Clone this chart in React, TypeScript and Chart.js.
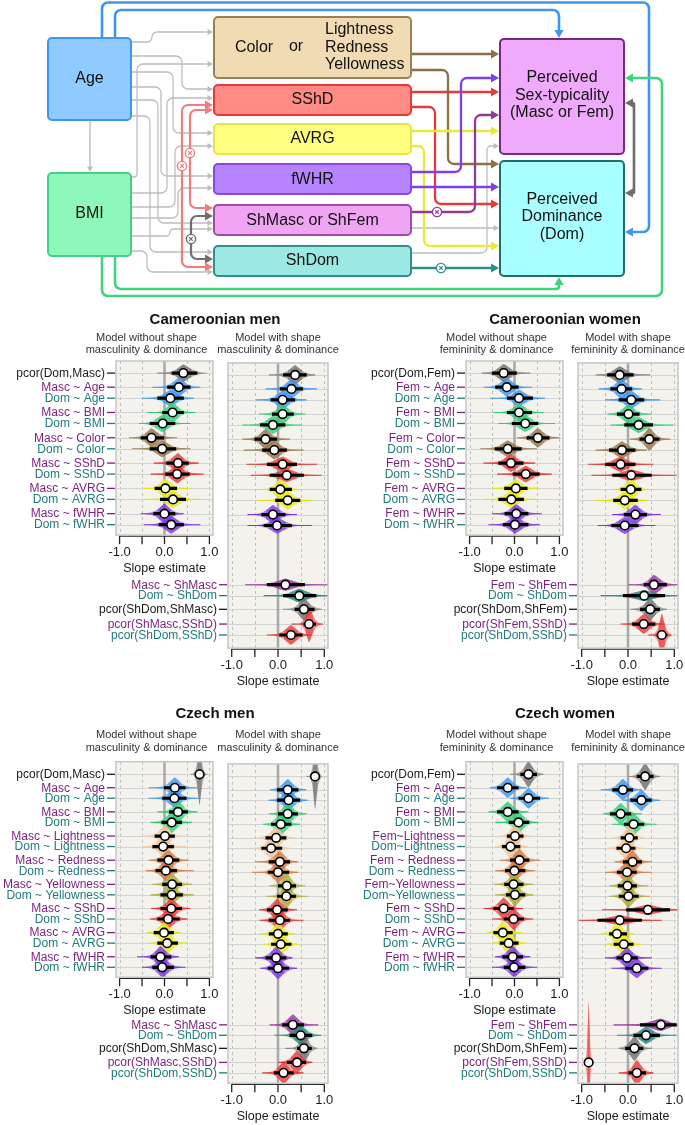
import React, { useEffect, useRef } from 'react';
import { Chart, registerables } from 'chart.js';

Chart.register(...registerables);

const FONT = '"Liberation Sans", Arial, Helvetica, sans-serif';

// ---------------- DATA ----------------
// row labels
const camMenLabels = ['pcor(Dom,Masc)', 'Masc ~ Age', 'Dom ~ Age', 'Masc ~ BMI', 'Dom ~ BMI', 'Masc ~ Color', 'Dom ~ Color', 'Masc ~ SShD', 'Dom ~ SShD', 'Masc ~ AVRG', 'Dom ~ AVRG', 'Masc ~ fWHR', 'Dom ~ fWHR'];
const camWomenLabels = ['pcor(Dom,Fem)', 'Fem ~ Age', 'Dom ~ Age', 'Fem ~ BMI', 'Dom ~ BMI', 'Fem ~ Color', 'Dom ~ Color', 'Fem ~ SShD', 'Dom ~ SShD', 'Fem ~ AVRG', 'Dom ~ AVRG', 'Fem ~ fWHR', 'Dom ~ fWHR'];
const czMenLabels = ['pcor(Dom,Masc)', 'Masc ~ Age', 'Dom ~ Age', 'Masc ~ BMI', 'Dom ~ BMI', 'Masc ~ Lightness', 'Dom ~ Lightness', 'Masc ~ Redness', 'Dom ~ Redness', 'Masc ~ Yellowness', 'Dom ~ Yellowness', 'Masc ~ SShD', 'Dom ~ SShD', 'Masc ~ AVRG', 'Dom ~ AVRG', 'Masc ~ fWHR', 'Dom ~ fWHR'];
const czWomenLabels = ['pcor(Dom,Fem)', 'Fem ~ Age', 'Dom ~ Age', 'Fem ~ BMI', 'Dom ~ BMI', 'Fem~Lightness', 'Dom~Lightness', 'Fem ~ Redness', 'Dom ~ Redness', 'Fem~Yellowness', 'Dom~Yellowness', 'Fem ~ SShD', 'Dom ~ SShD', 'Fem ~ AVRG', 'Dom ~ AVRG', 'Fem ~ fWHR', 'Dom ~ fWHR'];
const menShapeLabels = ['Masc ~ ShMasc', 'Dom ~ ShDom', 'pcor(ShDom,ShMasc)', 'pcor(ShMasc,SShD)', 'pcor(ShDom,SShD)'];
const womenShapeLabels = ['Fem ~ ShFem', 'Dom ~ ShDom', 'pcor(ShDom,ShFem)', 'pcor(ShFem,SShD)', 'pcor(ShDom,SShD)'];

// predictor (colour) keys and label tones (k = black, p = purple, t = teal)
const camKeys = ['pcor', 'Age', 'Age', 'BMI', 'BMI', 'Color', 'Color', 'SShD', 'SShD', 'AVRG', 'AVRG', 'fWHR', 'fWHR'];
const czKeys = ['pcor', 'Age', 'Age', 'BMI', 'BMI', 'Lightness', 'Lightness', 'Redness', 'Redness', 'Yellowness', 'Yellowness', 'SShD', 'SShD', 'AVRG', 'AVRG', 'fWHR', 'fWHR'];
const shapeKeys = ['ShMasc', 'ShDom', 'pcor', 'SShD', 'SShD'];
const camTones = ['k', 'p', 't', 'p', 't', 'p', 't', 'p', 't', 'p', 't', 'p', 't'];
const czTones = ['k', 'p', 't', 'p', 't', 'p', 't', 'p', 't', 'p', 't', 'p', 't', 'p', 't', 'p', 't'];
const shapeTones = ['p', 't', 'k', 'p', 't'];

// each row: [estimate, inner-interval low, inner-interval high, outer-interval low, outer-interval high]
const camMenNoShape = [
  [0.42, 0.16, 0.73, -0.16, 0.80], [0.32, 0.06, 0.58, -0.27, 0.80], [0.13, -0.16, 0.43, -0.50, 0.65],
  [0.18, -0.05, 0.43, -0.39, 0.69], [-0.04, -0.33, 0.24, -0.57, 0.58], [-0.29, -0.53, -0.01, -0.79, 0.28],
  [-0.05, -0.33, 0.26, -0.72, 0.58], [0.30, 0.04, 0.54, -0.24, 0.76], [0.28, 0.02, 0.56, -0.31, 0.87],
  [0.02, -0.22, 0.28, -0.46, 0.54], [0.19, -0.10, 0.48, -0.44, 0.80], [0.00, -0.25, 0.24, -0.53, 0.43],
  [0.15, -0.13, 0.43, -0.46, 0.80],
];
const camMenWithShape = [
  [0.37, 0.11, 0.62, -0.20, 0.80], [0.29, 0.04, 0.54, -0.27, 0.84], [0.10, -0.16, 0.37, -0.47, 0.62],
  [0.10, -0.13, 0.34, -0.41, 0.59], [-0.11, -0.39, 0.16, -0.77, 0.51], [-0.27, -0.51, -0.02, -0.77, 0.26],
  [-0.08, -0.34, 0.19, -0.74, 0.55], [0.10, -0.24, 0.41, -0.68, 0.84], [0.19, -0.18, 0.56, -0.59, 0.94],
  [0.05, -0.18, 0.30, -0.49, 0.55], [0.21, -0.06, 0.48, -0.45, 0.73], [-0.11, -0.36, 0.16, -0.66, 0.41],
  [-0.02, -0.31, 0.30, -0.66, 0.73],
];
const camMenShape = [
  [0.16, -0.24, 0.58, -0.71, 1.10], [0.46, 0.11, 0.83, -0.31, 1.10], [0.56, 0.36, 0.79, 0.11, 0.90],
  [0.67, 0.55, 0.82, 0.29, 0.97], [0.28, 0.03, 0.53, -0.24, 0.72],
];
const camWomenNoShape = [
  [-0.24, -0.50, 0.05, -0.73, 0.35], [-0.17, -0.43, 0.09, -0.69, 0.39], [0.10, -0.17, 0.41, -0.54, 0.68],
  [0.10, -0.17, 0.39, -0.47, 0.64], [0.24, -0.06, 0.53, -0.36, 0.90], [0.52, 0.27, 0.78, 0.05, 1.01],
  [-0.15, -0.44, 0.16, -0.76, 0.50], [-0.08, -0.36, 0.20, -0.69, 0.46], [0.25, -0.04, 0.56, -0.39, 0.83],
  [0.03, -0.23, 0.29, -0.50, 0.53], [-0.07, -0.36, 0.21, -0.65, 0.50], [0.04, -0.22, 0.31, -0.50, 0.61],
  [0.01, -0.26, 0.31, -0.58, 0.57],
];
const camWomenWithShape = [
  [-0.18, -0.45, 0.12, -0.70, 0.48], [-0.14, -0.38, 0.09, -0.63, 0.30], [0.07, -0.20, 0.35, -0.49, 0.69],
  [0.01, -0.24, 0.25, -0.45, 0.51], [0.23, -0.08, 0.54, -0.38, 0.98], [0.46, 0.25, 0.68, 0.04, 0.91],
  [-0.13, -0.41, 0.16, -0.70, 0.41], [-0.16, -0.49, 0.16, -0.86, 0.55], [0.07, -0.34, 0.51, -0.79, 1.05],
  [0.06, -0.16, 0.29, -0.38, 0.55], [-0.07, -0.32, 0.21, -0.70, 0.44], [0.16, -0.09, 0.41, -0.34, 0.71],
  [-0.07, -0.36, 0.23, -0.66, 0.59],
];
const camWomenShape = [
  [0.56, 0.34, 0.84, 0.01, 1.10], [0.35, -0.11, 0.80, -0.59, 1.10], [0.48, 0.26, 0.69, 0.05, 0.84],
  [0.34, 0.09, 0.59, -0.16, 0.80], [0.73, 0.62, 0.85, 0.44, 0.94],
];
const czMenNoShape = [
  [0.78, 0.70, 0.86, 0.58, 0.95], [0.23, -0.01, 0.47, -0.35, 0.73], [0.22, -0.05, 0.49, -0.35, 0.76],
  [0.30, 0.10, 0.52, -0.16, 0.73], [0.16, -0.07, 0.39, -0.31, 0.61], [0.01, -0.22, 0.23, -0.46, 0.47],
  [-0.03, -0.27, 0.21, -0.50, 0.47], [0.09, -0.16, 0.33, -0.35, 0.54], [0.03, -0.20, 0.28, -0.42, 0.65],
  [0.17, -0.05, 0.39, -0.27, 0.61], [0.16, -0.09, 0.41, -0.31, 0.65], [0.15, -0.09, 0.39, -0.30, 0.58],
  [0.08, -0.16, 0.34, -0.31, 0.50], [-0.01, -0.24, 0.21, -0.39, 0.36], [0.06, -0.16, 0.30, -0.35, 0.50],
  [-0.09, -0.31, 0.15, -0.61, 0.32], [-0.05, -0.27, 0.21, -0.50, 0.47],
];
const czMenWithShape = [
  [0.80, 0.73, 0.88, 0.62, 0.94], [0.21, -0.02, 0.44, -0.16, 0.61], [0.23, -0.02, 0.48, -0.20, 0.62],
  [0.21, 0.00, 0.43, -0.20, 0.62], [0.06, -0.15, 0.29, -0.33, 0.48], [-0.04, -0.27, 0.18, -0.44, 0.37],
  [-0.15, -0.36, 0.09, -0.52, 0.26], [0.04, -0.20, 0.26, -0.50, 0.44], [0.00, -0.22, 0.24, -0.56, 0.44],
  [0.19, 0.00, 0.39, -0.19, 0.59], [0.18, -0.02, 0.39, -0.25, 0.64], [-0.02, -0.24, 0.21, -0.41, 0.41],
  [0.04, -0.20, 0.26, -0.40, 0.55], [0.00, -0.20, 0.21, -0.41, 0.37], [0.06, -0.15, 0.29, -0.34, 0.44],
  [-0.04, -0.27, 0.18, -0.49, 0.30], [0.00, -0.22, 0.24, -0.38, 0.41],
];
const czMenShape = [
  [0.32, 0.09, 0.56, -0.18, 0.87], [0.49, 0.25, 0.74, -0.08, 0.94], [0.56, 0.41, 0.73, 0.16, 0.82],
  [0.41, 0.19, 0.61, 0.01, 0.73], [0.12, -0.09, 0.34, -0.34, 0.55],
];
const czWomenNoShape = [
  [0.31, 0.13, 0.50, -0.10, 0.64], [-0.15, -0.39, 0.09, -0.54, 0.27], [0.31, 0.09, 0.57, -0.10, 0.76],
  [-0.15, -0.39, 0.09, -0.58, 0.31], [0.09, -0.13, 0.33, -0.43, 0.53], [0.01, -0.17, 0.20, -0.32, 0.39],
  [-0.09, -0.28, 0.13, -0.43, 0.31], [0.11, -0.10, 0.33, -0.33, 0.57], [0.00, -0.21, 0.24, -0.43, 0.46],
  [-0.02, -0.23, 0.20, -0.45, 0.42], [0.01, -0.19, 0.24, -0.43, 0.42], [-0.24, -0.47, -0.02, -0.69, 0.19],
  [-0.02, -0.24, 0.21, -0.50, 0.42], [-0.26, -0.47, -0.04, -0.61, 0.16], [-0.13, -0.33, 0.09, -0.50, 0.27],
  [-0.04, -0.27, 0.19, -0.43, 0.35], [-0.01, -0.24, 0.24, -0.50, 0.50],
];
const czWomenWithShape = [
  [0.37, 0.19, 0.55, 0.01, 0.69], [-0.11, -0.34, 0.11, -0.59, 0.30], [0.29, 0.05, 0.51, -0.09, 0.69],
  [-0.16, -0.39, 0.07, -0.52, 0.30], [0.12, -0.09, 0.35, -0.34, 0.62], [0.03, -0.16, 0.21, -0.34, 0.37],
  [-0.04, -0.25, 0.16, -0.45, 0.34], [0.10, -0.11, 0.30, -0.29, 0.51], [-0.02, -0.24, 0.19, -0.49, 0.51],
  [-0.01, -0.22, 0.19, -0.41, 0.44], [0.01, -0.20, 0.23, -0.41, 0.48], [0.43, -0.04, 0.91, -0.56, 1.10],
  [-0.18, -0.66, 0.30, -1.10, 0.73], [-0.24, -0.41, -0.02, -0.59, 0.12], [-0.09, -0.31, 0.12, -0.49, 0.30],
  [-0.02, -0.25, 0.21, -0.49, 0.51], [0.19, -0.06, 0.44, -0.36, 0.73],
];
const czWomenShape = [
  [0.71, 0.26, 1.05, -0.31, 1.10], [0.39, 0.12, 0.69, -0.24, 1.05], [0.14, -0.06, 0.33, -0.20, 0.51],
  [-0.85, -0.89, -0.81, -0.93, -0.75], [0.19, 0.01, 0.39, -0.20, 0.55],
];

// x axis
const X_MIN = -1.08;
const X_MAX = 1.08;
const TICK_VALUES = [-1, -0.5, 0, 0.5, 1];
const TICK_LABELS = ['-1.0', '', '0.0', '', '1.0'];
const GRID_DASHED = [-1, -0.5, 0.5, 1];

// ---------------- STYLE ----------------
const PALETTE: any = {
  pcor: { fill: 'rgba(110,110,110,0.55)', line: '#8A8A8A' },
  Age: { fill: 'rgba(55,150,245,0.55)', line: '#3D97F0' },
  BMI: { fill: 'rgba(45,205,120,0.55)', line: '#2ECC71' },
  Color: { fill: 'rgba(150,118,72,0.58)', line: '#9E7F55' },
  Lightness: { fill: 'rgba(242,198,155,0.6)', line: '#F3CFA8' },
  Redness: { fill: 'rgba(215,118,60,0.55)', line: '#D2773C' },
  Yellowness: { fill: 'rgba(172,172,55,0.58)', line: '#B0B040' },
  SShD: { fill: 'rgba(235,55,55,0.55)', line: '#E83030' },
  AVRG: { fill: 'rgba(236,236,30,0.62)', line: '#E2E220' },
  fWHR: { fill: 'rgba(125,55,230,0.58)', line: '#7B35E0' },
  ShMasc: { fill: 'rgba(150,50,160,0.55)', line: '#9B3AA0' },
  ShDom: { fill: 'rgba(35,140,135,0.6)', line: '#2E8E8C' },
};
const TONE: any = { k: '#1A1A1A', p: '#7A1F7C', t: '#1E7B78' };
const VIOLIN_K = 1.12;

// ---------------- LAYOUT HELPERS ----------------
function topPositions(n: number) {
  const p = [0];
  for (let j = 0; p.length < n; j++) {
    const a = 1.28 + 2.3 * j;
    p.push(a);
    if (p.length < n) p.push(a + 1);
  }
  return p;
}
function shapePositions(last: number) {
  return [0, 1, 2.25, 3.6, 4.6].map((o) => last + 5.42 + o);
}

function buildPanel(p: any) {
  const top = topPositions(p.labels.length);
  const last = top[top.length - 1];
  const shp = shapePositions(last);
  const leftMax = last + 0.95;
  const rightMax = shp[4] + p.rightPad;
  const lb = { x0: p.ox + 116, x1: p.ox + 213, y0: p.boxTop, y1: p.boxTop + (leftMax - p.yMin) * p.unit };
  const rb = { x0: p.ox + 228, x1: p.ox + 328, y0: p.boxTop, y1: p.boxTop + (rightMax - p.yMin) * p.unit };
  const topRows = (vals: number[][], show: boolean) =>
    p.labels.map((l: string, i: number) => ({ label: l, key: p.keys[i], tone: p.tones[i], pos: top[i], v: vals[i], showLabel: show }));
  const shapeRows = p.shapeLabels.map((l: string, i: number) => ({ label: l, key: shapeKeys[i], tone: shapeTones[i], pos: shp[i], v: p.shape[i], showLabel: true }));
  const subFont = `11px ${FONT}`;
  const texts = [
    { text: p.title, x: p.ox + 215, y: p.titleY, font: `bold 15px ${FONT}`, color: '#111' },
    { text: 'Model without shape', x: p.ox + 146.5, y: p.sub1Y, font: subFont, color: '#333' },
    { text: p.subWord + ' & dominance', x: p.ox + 146.5, y: p.sub2Y, font: subFont, color: '#333' },
    { text: 'Model with shape', x: p.ox + 278, y: p.sub1Y, font: subFont, color: '#333' },
    { text: p.subWord + ' & dominance', x: p.ox + 278, y: p.sub2Y, font: subFont, color: '#333' },
  ];
  const left = {
    canvas: { x: p.ox, y: p.titleY - 14, w: 340, h: Math.ceil(lb.y1 + 44 - (p.titleY - 14)) },
    box: lb, yMin: p.yMin, yMax: leftMax, rows: topRows(p.noShape, true), texts,
  };
  const right = {
    canvas: { x: p.ox + 40, y: p.boxTop - 4, w: 300, h: Math.ceil(rb.y1 + 44 - (p.boxTop - 4)) },
    box: rb, yMin: p.yMin, yMax: rightMax, rows: [...topRows(p.withShape, false), ...shapeRows], texts: [],
  };
  return [left, right];
}

const PANELS = [
  { ox: 0, title: 'Cameroonian men', subWord: 'masculinity', titleY: 320, sub1Y: 338, sub2Y: 350, boxTop: 361, unit: 11, yMin: -1.1, rightPad: 1.2,
    labels: camMenLabels, keys: camKeys, tones: camTones, noShape: camMenNoShape, withShape: camMenWithShape, shapeLabels: menShapeLabels, shape: camMenShape },
  { ox: 350, title: 'Cameroonian women', subWord: 'femininity', titleY: 320, sub1Y: 338, sub2Y: 350, boxTop: 361, unit: 11, yMin: -1.1, rightPad: 1.2,
    labels: camWomenLabels, keys: camKeys, tones: camTones, noShape: camWomenNoShape, withShape: camWomenWithShape, shapeLabels: womenShapeLabels, shape: camWomenShape },
  { ox: 0, title: 'Czech men', subWord: 'masculinity', titleY: 714, sub1Y: 735, sub2Y: 748, boxTop: 761.7, unit: 10.5, yMin: -1.2, rightPad: 1.0,
    labels: czMenLabels, keys: czKeys, tones: czTones, noShape: czMenNoShape, withShape: czMenWithShape, shapeLabels: menShapeLabels, shape: czMenShape },
  { ox: 350, title: 'Czech women', subWord: 'femininity', titleY: 714, sub1Y: 735, sub2Y: 748, boxTop: 761.7, unit: 10.5, yMin: -1.2, rightPad: 1.0,
    labels: czWomenLabels, keys: czKeys, tones: czTones, noShape: czWomenNoShape, withShape: czWomenWithShape, shapeLabels: womenShapeLabels, shape: czWomenShape },
];

// ---------------- FOREST CHART ----------------
function line(ctx: any, x0: number, y0: number, x1: number, y1: number) {
  ctx.beginPath();
  ctx.moveTo(x0, y0);
  ctx.lineTo(x1, y1);
  ctx.stroke();
}

function violinPath(ctx: any, xs: any, yc: number, m: number, sL: number, sR: number, peak: number, zLim: number) {
  const N = 60;
  const lo = m - zLim * sL;
  const hi = m + zLim * sR;
  const up: number[][] = [];
  for (let i = 0; i <= N; i++) {
    const v = lo + ((hi - lo) * i) / N;
    const z = v < m ? (m - v) / sL : (v - m) / sR;
    const h = peak * Math.exp(-0.55 * Math.pow(z, 1.35));
    up.push([xs.getPixelForValue(v), h]);
  }
  ctx.beginPath();
  up.forEach((p, i) => (i === 0 ? ctx.moveTo(p[0], yc - p[1]) : ctx.lineTo(p[0], yc - p[1])));
  for (let i = up.length - 1; i >= 0; i--) ctx.lineTo(up[i][0], yc + up[i][1]);
  ctx.closePath();
}

function makeForestPlugin(spec: any) {
  return {
    id: 'forestDecor',
    beforeDraw(chart: any) {
      const { ctx, chartArea: ca, scales } = chart;
      const xs = scales.x;
      const ys = scales.y;
      const ox = spec.canvas.x;
      const oy = spec.canvas.y;
      ctx.save();
      ctx.fillStyle = '#F3F2EC';
      ctx.fillRect(ca.left, ca.top, ca.right - ca.left, ca.bottom - ca.top);
      ctx.strokeStyle = '#BFBFBF';
      ctx.lineWidth = 1;
      ctx.setLineDash([3, 3]);
      GRID_DASHED.forEach((v) => {
        const px = Math.round(xs.getPixelForValue(v)) + 0.5;
        line(ctx, px, ca.top, px, ca.bottom);
      });
      ctx.setLineDash([]);
      ctx.strokeStyle = '#D3D3D3';
      spec.rows.forEach((r: any) => {
        const py = Math.round(ys.getPixelForValue(r.pos)) + 0.5;
        line(ctx, ca.left, py, ca.right, py);
      });
      ctx.strokeStyle = '#A8A8A8';
      ctx.lineWidth = 2.5;
      const zx = xs.getPixelForValue(0);
      line(ctx, zx, ca.top, zx, ca.bottom);
      ctx.font = `12px ${FONT}`;
      ctx.textAlign = 'right';
      ctx.textBaseline = 'middle';
      spec.rows.forEach((r: any) => {
        if (!r.showLabel) return;
        const py = ys.getPixelForValue(r.pos);
        ctx.fillStyle = TONE[r.tone];
        ctx.fillText(r.label, ca.left - 11, py + 0.5);
        ctx.strokeStyle = TONE[r.tone];
        ctx.lineWidth = 1.3;
        line(ctx, ca.left - 9, py, ca.left - 1, py);
      });
      const ay = ca.bottom + 1;
      ctx.strokeStyle = '#222';
      ctx.lineWidth = 1.3;
      line(ctx, xs.getPixelForValue(-1), ay, xs.getPixelForValue(1), ay);
      ctx.fillStyle = '#1A1A1A';
      ctx.textAlign = 'center';
      ctx.font = `13px ${FONT}`;
      TICK_VALUES.forEach((v, i) => {
        const px = xs.getPixelForValue(v);
        line(ctx, px, ay, px, ay + 8);
        if (TICK_LABELS[i]) ctx.fillText(TICK_LABELS[i], px, ca.bottom + 17);
      });
      ctx.font = `12.5px ${FONT}`;
      ctx.fillText('Slope estimate', xs.getPixelForValue(0), ca.bottom + 33);
      spec.texts.forEach((t: any) => {
        ctx.font = t.font;
        ctx.fillStyle = t.color;
        ctx.fillText(t.text, t.x - ox, t.y - oy);
      });
      ctx.restore();
    },
    beforeDatasetsDraw(chart: any) {
      const { ctx, chartArea: ca, scales } = chart;
      const xs = scales.x;
      const ys = scales.y;
      ctx.save();
      ctx.beginPath();
      ctx.rect(ca.left, ca.top, ca.right - ca.left, ca.bottom - ca.top);
      ctx.clip();
      spec.rows.forEach((r: any) => {
        const [m, a, b] = r.v;
        const sL = Math.max((m - a) / 2.2, 0.01);
        const sR = Math.max((b - m) / 2.2, 0.01);
        const peak = VIOLIN_K / ((sL + sR) / 2);
        const yc = ys.getPixelForValue(r.pos);
        ctx.fillStyle = PALETTE[r.key].fill;
        violinPath(ctx, xs, yc, m, sL, sR, peak, 3.8);
        ctx.fill();
        violinPath(ctx, xs, yc, m, sL, sR, peak, 1.3);
        ctx.fill();
      });
      ctx.restore();
    },
    afterDatasetsDraw(chart: any) {
      const { ctx, chartArea: ca } = chart;
      ctx.save();
      ctx.strokeStyle = '#C6C6C6';
      ctx.lineWidth = 1.5;
      ctx.strokeRect(ca.left, ca.top, ca.right - ca.left, ca.bottom - ca.top);
      ctx.restore();
    },
  };
}

function makeForestConfig(spec: any) {
  const rows = spec.rows;
  const thin: any[] = [];
  const thick: any[] = [];
  const pts: any[] = [];
  rows.forEach((r: any) => {
    const [m, a, b, lo, hi] = r.v;
    thin.push({ x: lo, y: r.pos }, { x: hi, y: r.pos }, { x: NaN, y: NaN });
    thick.push({ x: a, y: r.pos }, { x: b, y: r.pos }, { x: NaN, y: NaN });
    pts.push({ x: m, y: r.pos });
  });
  const c = spec.canvas;
  const bx = spec.box;
  return {
    type: 'scatter',
    data: {
      datasets: [
        { data: pts, order: 0, showLine: false, pointRadius: 4.3, pointBackgroundColor: '#ffffff', pointBorderColor: '#000000', pointBorderWidth: 1.6 },
        { data: thick, order: 1, showLine: true, pointRadius: 0, borderColor: '#000000', borderWidth: 3.2, borderCapStyle: 'butt', spanGaps: false },
        {
          data: thin, order: 2, showLine: true, pointRadius: 0, borderWidth: 1.1, borderColor: '#888888', spanGaps: false,
          segment: { borderColor: (ctx: any) => PALETTE[rows[Math.floor(ctx.p0DataIndex / 3)].key].line },
        },
      ],
    },
    options: {
      responsive: false,
      maintainAspectRatio: false,
      animation: false,
      events: [],
      layout: { padding: { left: bx.x0 - c.x, right: c.x + c.w - bx.x1, top: bx.y0 - c.y, bottom: c.y + c.h - bx.y1 } },
      scales: {
        x: { type: 'linear', min: X_MIN, max: X_MAX, display: false },
        y: { type: 'linear', min: spec.yMin, max: spec.yMax, reverse: true, display: false },
      },
      plugins: { legend: { display: false }, tooltip: { enabled: false } },
    },
    plugins: [makeForestPlugin(spec)],
  };
}

function ForestSubplot({ spec }: { spec: any }) {
  const ref = useRef<HTMLCanvasElement>(null);
  useEffect(() => {
    const chart = new Chart(ref.current as any, makeForestConfig(spec) as any);
    return () => chart.destroy();
  }, []);
  const c = spec.canvas;
  return <canvas ref={ref} width={c.w} height={c.h} style={{ position: 'absolute', left: c.x, top: c.y, width: c.w, height: c.h }} />;
}

// ---------------- PATH DIAGRAM ----------------
const GRAY = '#BDBDBD';
const DIAGRAM_BOXES = [
  { x0: 48, y0: 38, x1: 131, y1: 120, fill: '#8FCBFF', stroke: '#3D97F0', text: [['Age', 89.5, 79, 'center']] },
  { x0: 48, y0: 173, x1: 131, y1: 256, fill: '#8DF8BA', stroke: '#41D383', text: [['BMI', 89.5, 214, 'center']] },
  { x0: 214, y0: 17, x1: 411, y1: 78, fill: '#F1DBB2', stroke: '#9E7F55', text: [['Color', 254, 48, 'center'], ['or', 296, 47, 'center'], ['Lightness', 325, 30, 'left'], ['Redness', 325, 48, 'left'], ['Yellowness', 325, 65, 'left']] },
  { x0: 214, y0: 85, x1: 411, y1: 115, fill: '#FF8B84', stroke: '#E8383A', text: [['SShD', 312.5, 100, 'center']] },
  { x0: 214, y0: 124, x1: 411, y1: 154, fill: '#FFFF80', stroke: '#E6E64A', text: [['AVRG', 312.5, 139, 'center']] },
  { x0: 214, y0: 164, x1: 411, y1: 194, fill: '#B683FF', stroke: '#8A46EA', text: [['fWHR', 312.5, 179.5, 'center']] },
  { x0: 214, y0: 205, x1: 411, y1: 235, fill: '#EFA5F3', stroke: '#A04CA6', text: [['ShMasc or ShFem', 312.5, 220.5, 'center']] },
  { x0: 214, y0: 246, x1: 411, y1: 276, fill: '#9CE8E2', stroke: '#2E8E8C', text: [['ShDom', 312.5, 261, 'center']] },
  { x0: 500, y0: 39, x1: 624, y1: 154, fill: '#F0AAFB', stroke: '#78287E', text: [['Perceived', 562, 78, 'center'], ['Sex-typicality', 562, 95.5, 'center'], ['(Masc or Fem)', 562, 113, 'center']] },
  { x0: 500, y0: 161, x1: 624, y1: 276, fill: '#A9FFFF', stroke: '#1F6E69', text: [['Perceived', 562, 199.5, 'center'], ['Dominance', 562, 217, 'center'], ['(Dom)', 562, 234.5, 'center']] },
];

const DIAGRAM_EDGES = [
  // Age / BMI -> mediators (grey)
  { pts: [[90, 120], [90, 172]], c: GRAY, w: 1.4, head: 'end' },
  { pts: [[131, 42], [152, 42], [152, 32], [213, 32]], c: GRAY, w: 1.3, head: 'end' },
  { pts: [[131, 56], [182, 56], [182, 89], [213, 89]], c: GRAY, w: 1.3, head: 'end' },
  { pts: [[131, 72], [173, 72], [173, 133], [213, 133]], c: GRAY, w: 1.3, head: 'end' },
  { pts: [[131, 87], [161, 87], [161, 176], [213, 176]], c: GRAY, w: 1.3, head: 'end' },
  { pts: [[131, 100], [158, 100], [158, 223], [213, 223]], c: GRAY, w: 1.3, head: 'end' },
  { pts: [[131, 116], [150, 116], [150, 252], [213, 252]], c: GRAY, w: 1.3, head: 'end' },
  { pts: [[131, 177], [137, 177], [137, 64], [213, 64]], c: GRAY, w: 1.3, head: 'end' },
  { pts: [[131, 193], [167, 193], [167, 98], [213, 98]], c: GRAY, w: 1.3, head: 'end' },
  { pts: [[131, 207], [175, 207], [175, 146], [213, 146]], c: GRAY, w: 1.3, head: 'end' },
  { pts: [[131, 218], [178, 218], [178, 188], [213, 188]], c: GRAY, w: 1.3, head: 'end' },
  { pts: [[131, 236], [170, 236], [170, 229], [213, 229]], c: GRAY, w: 1.3, head: 'end' },
  { pts: [[131, 251], [147, 251], [147, 272], [213, 272]], c: GRAY, w: 1.3, head: 'end' },
  // mediators -> outcomes (grey)
  { pts: [[411, 228], [499, 228]], c: GRAY, w: 1.3, head: 'end' },
  { pts: [[411, 253], [487, 253], [487, 146], [499, 146]], c: GRAY, w: 1.3, head: 'end' },
  // shape correlations (left)
  { pts: [[213, 105], [182, 105], [182, 267], [213, 267]], c: '#F07C7C', w: 2.2, head: 'both' },
  { pts: [[213, 110], [190, 110], [190, 208], [213, 208]], c: '#F07C7C', w: 2.2, head: 'both' },
  { pts: [[213, 216], [191, 216], [191, 259], [213, 259]], c: '#6E6E6E', w: 2.2, head: 'both' },
  // Age & BMI -> outcomes
  { pts: [[102, 38], [102, 2.5], [649, 2.5], [649, 232], [625, 232]], c: '#3D97F0', w: 2.6, head: 'end' },
  { pts: [[115, 38], [115, 10], [559, 10], [559, 38]], c: '#3D97F0', w: 2.6, head: 'end' },
  { pts: [[102, 256], [102, 296], [662, 296], [662, 78], [625, 78]], c: '#3DD480', w: 2.6, head: 'end' },
  { pts: [[115, 256], [115, 289], [559, 289], [559, 277]], c: '#3DD480', w: 2.6, head: 'end' },
  // mediators -> outcomes (coloured)
  { pts: [[411, 54], [499, 54]], c: '#8C6F45', w: 2.3, head: 'end' },
  { pts: [[411, 70], [448, 70], [448, 164], [499, 164]], c: '#8C6F45', w: 2.3, head: 'end' },
  { pts: [[411, 92], [499, 92]], c: '#E8383A', w: 2.3, head: 'end' },
  { pts: [[411, 107], [435, 107], [435, 204], [499, 204]], c: '#E8383A', w: 2.3, head: 'end' },
  { pts: [[411, 131], [499, 131]], c: '#EAEA30', w: 2.3, head: 'end' },
  { pts: [[411, 146], [424, 146], [424, 246], [499, 246]], c: '#EAEA30', w: 2.3, head: 'end' },
  { pts: [[411, 172], [461, 172], [461, 78], [499, 78]], c: '#7F3FE6', w: 2.3, head: 'end' },
  { pts: [[411, 187], [499, 187]], c: '#7F3FE6', w: 2.3, head: 'end' },
  { pts: [[411, 212], [475, 212], [475, 115], [499, 115]], c: '#8F3C96', w: 2.3, head: 'end' },
  { pts: [[411, 268], [499, 268]], c: '#2E8E8C', w: 2.3, head: 'end' },
  // residual correlation of outcomes
  { pts: [[625, 103], [634, 103], [634, 193], [625, 193]], c: '#6E6E6E', w: 2.6, head: 'both' },
];
const DIAGRAM_MARKERS = [
  [182, 166, '#F07C7C'], [190, 153, '#F07C7C'], [191, 239, '#6E6E6E'], [437, 212, '#8F3C96'], [441, 268, '#2E8E8C'],
];

function makeDiagramPlugin() {
  return {
    id: 'pathDiagram',
    afterDraw(chart: any) {
      const { ctx, scales } = chart;
      const X = (v: number) => scales.x.getPixelForValue(v);
      const Y = (v: number) => scales.y.getPixelForValue(v);
      ctx.save();
      ctx.lineJoin = 'round';
      DIAGRAM_EDGES.forEach((e: any) => {
        const pts = e.pts.map((p: number[]) => [X(p[0]), Y(p[1])]);
        const big = e.c !== GRAY;
        const len = big ? 8 : 5.5;
        const hw = big ? 4.6 : 3;
        const shorten = (a: number[], b: number[]) => {
          const d = Math.hypot(b[0] - a[0], b[1] - a[1]);
          return [b[0] - ((b[0] - a[0]) / d) * len * 0.8, b[1] - ((b[1] - a[1]) / d) * len * 0.8];
        };
        const drawPts = pts.map((p: number[]) => p.slice());
        const n = pts.length;
        if (e.head === 'end' || e.head === 'both') drawPts[n - 1] = shorten(pts[n - 2], pts[n - 1]);
        if (e.head === 'both') drawPts[0] = shorten(pts[1], pts[0]);
        ctx.strokeStyle = e.c;
        ctx.fillStyle = e.c;
        ctx.lineWidth = e.w;
        ctx.beginPath();
        ctx.moveTo(drawPts[0][0], drawPts[0][1]);
        for (let i = 1; i < n - 1; i++) {
          const a = drawPts[i - 1];
          const b = drawPts[i];
          const c = drawPts[i + 1];
          const r = Math.min(6, Math.hypot(b[0] - a[0], b[1] - a[1]) / 2, Math.hypot(c[0] - b[0], c[1] - b[1]) / 2);
          ctx.arcTo(b[0], b[1], c[0], c[1], r);
        }
        ctx.lineTo(drawPts[n - 1][0], drawPts[n - 1][1]);
        ctx.stroke();
        const head = (from: number[], to: number[]) => {
          const d = Math.hypot(to[0] - from[0], to[1] - from[1]);
          const ux = (to[0] - from[0]) / d;
          const uy = (to[1] - from[1]) / d;
          const bx = to[0] - ux * len;
          const by = to[1] - uy * len;
          ctx.beginPath();
          ctx.moveTo(to[0], to[1]);
          ctx.lineTo(bx - uy * hw, by + ux * hw);
          ctx.lineTo(bx + uy * hw, by - ux * hw);
          ctx.closePath();
          ctx.fill();
        };
        if (e.head === 'end' || e.head === 'both') head(pts[n - 2], pts[n - 1]);
        if (e.head === 'both') head(pts[1], pts[0]);
      });
      DIAGRAM_MARKERS.forEach((m: any) => {
        const x = X(m[0]);
        const y = Y(m[1]);
        ctx.fillStyle = '#fff';
        ctx.strokeStyle = m[2];
        ctx.lineWidth = 1.4;
        ctx.beginPath();
        ctx.arc(x, y, 4.6, 0, Math.PI * 2);
        ctx.fill();
        ctx.stroke();
        ctx.lineWidth = 1.2;
        line(ctx, x - 1.8, y - 1.8, x + 1.8, y + 1.8);
        line(ctx, x - 1.8, y + 1.8, x + 1.8, y - 1.8);
      });
      DIAGRAM_BOXES.forEach((b: any) => {
        const x0 = X(b.x0);
        const y0 = Y(b.y0);
        const w = X(b.x1) - x0;
        const h = Y(b.y1) - y0;
        ctx.fillStyle = b.fill;
        ctx.strokeStyle = b.stroke;
        ctx.lineWidth = 2;
        ctx.beginPath();
        ctx.roundRect(x0, y0, w, h, 4);
        ctx.fill();
        ctx.stroke();
        ctx.fillStyle = '#111';
        ctx.font = `16px ${FONT}`;
        ctx.textBaseline = 'middle';
        b.text.forEach((t: any) => {
          ctx.textAlign = t[3];
          ctx.fillText(t[0], X(t[1]), Y(t[2]));
        });
      });
      ctx.restore();
    },
  };
}

function PathDiagram() {
  const ref = useRef<HTMLCanvasElement>(null);
  useEffect(() => {
    const chart = new Chart(ref.current as any, {
      type: 'scatter',
      data: { datasets: [] },
      options: {
        responsive: false,
        maintainAspectRatio: false,
        animation: false,
        events: [],
        layout: { padding: 0 },
        scales: {
          x: { type: 'linear', min: 0, max: 685, display: false },
          y: { type: 'linear', min: 0, max: 300, reverse: true, display: false },
        },
        plugins: { legend: { display: false }, tooltip: { enabled: false } },
      },
      plugins: [makeDiagramPlugin()],
    } as any);
    return () => chart.destroy();
  }, []);
  return <canvas ref={ref} width={685} height={300} style={{ position: 'absolute', left: 0, top: 0, width: 685, height: 300 }} />;
}

export default function App() {
  const specs = PANELS.flatMap((p) => buildPanel(p));
  return (
    <div style={{ position: 'absolute', left: 0, top: 0, width: 685, height: 1125, overflow: 'hidden', background: '#ffffff' }}>
      <PathDiagram />
      {specs.map((s, i) => (
        <ForestSubplot key={i} spec={s} />
      ))}
    </div>
  );
}
